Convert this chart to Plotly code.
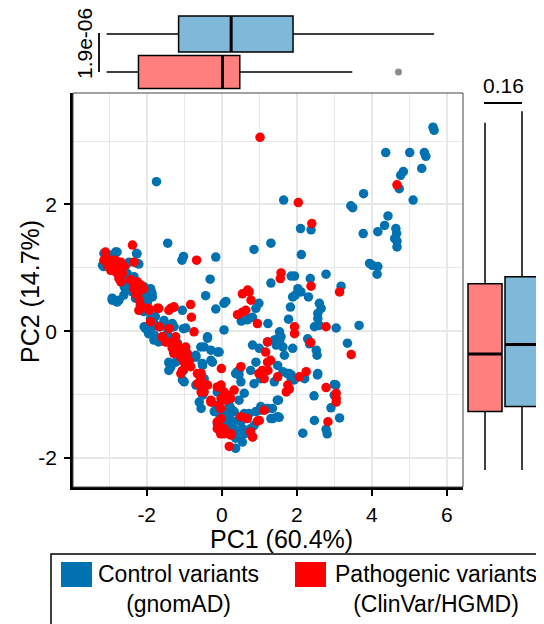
import plotly.graph_objects as go

# The page body adds an 8px offset; the figure is laid out in screen pixels
OX, OY = 8, 8
FW, FH = 536, 616

# ---------------- data ----------------
# PCA scores (PC1, PC2)
control_points = [
    (5.63, 3.22), (5.66, 3.17), (4.37, 2.82), (5.01, 2.82), (5.40, 2.82), (5.44, 2.76), (5.33, 2.57),
    (4.77, 2.46), (4.84, 2.52), (4.73, 2.25), (5.10, 2.07), (3.78, 2.17), (3.44, 1.98), (3.49, 1.95),
    (4.43, 1.82), (4.34, 1.67), (4.16, 1.57), (3.77, 1.54), (4.64, 1.62), (4.66, 1.54), (4.61, 1.46),
    (4.67, 1.42), (4.67, 1.33), (3.94, 1.07), (4.01, 1.04), (4.16, 1.02), (4.14, 0.90), (3.66, 0.09),
    (3.35, -0.19),
    (1.65, 2.07), (2.10, 1.62), (2.38, 1.60), (0.86, 1.29), (1.31, 1.39), (2.12, 1.21), (-1.74, 2.36),
    (-1.44, 1.39), (-1.02, 1.18), (-1.06, 1.12), (-0.16, 1.17), (-0.31, 0.82), (-0.43, 0.56),
    (0.11, 0.47), (0.06, 0.44), (-0.16, 0.35), (0.06, 0.02), (-1.05, 0.33),
    (1.31, 0.76), (1.85, 0.87), (1.94, 0.87), (2.36, 0.83), (2.78, 0.90), (3.18, 0.71), (2.03, 0.67),
    (1.96, 0.57), (1.89, 0.54), (2.11, 0.62), (2.31, 0.54), (1.83, 0.38), (2.60, 0.44), (2.65, 0.36),
    (2.56, 0.28), (2.56, 0.20), (2.47, 0.07), (2.60, 0.09), (3.05, 0.05), (1.23, 0.12), (1.78, 0.19),
    (1.54, -0.01), (1.40, -0.14), (1.49, -0.12), (1.58, -0.09), (1.54, -0.17), (1.45, -0.22),
    (1.63, -0.25), (1.67, -0.38), (1.49, -0.54), (1.63, -0.64), (1.85, -0.69), (1.89, -0.27),
    (2.29, -0.12), (2.34, -0.20), (2.52, -0.30), (2.54, -0.38), (1.80, -0.67), (1.85, -0.75),
    (2.21, -0.75), (2.56, -0.67), (3.00, -0.84), (2.91, -1.21), (3.14, -1.37), (2.78, -1.55),
    (2.81, -1.62), (2.47, -1.41), (2.46, -1.02), (2.16, -1.61), (1.51, -1.09), (1.49, -1.35),
    (1.36, -1.38), (1.23, -1.22),
    (0.99, 0.44), (0.91, 0.36), (0.82, 0.22), (0.73, 0.20), (0.68, 0.18), (0.52, 0.16),
    (-1.32, 0.12), (-0.96, 0.05), (-1.36, 0.07), (-0.38, -0.11), (-0.47, -0.25), (-0.11, -0.33),
    (-0.29, -0.46), (-0.25, -0.49), (-0.69, -0.41), (-0.51, -0.54), (-0.87, -0.41), (-1.23, -0.49),
    (-1.00, -0.80), (0.82, -0.22), (1.00, -0.27), (1.22, -0.17), (0.91, -0.49), (0.77, -0.62),
    (1.04, -0.75), (0.42, -0.64), (0.46, -0.69), (0.51, -0.80), (-0.47, -0.75), (-0.69, -0.85),
    (-0.51, -1.01), (-0.60, -1.12), (-0.55, -1.22),
    (-0.12, -0.96), (0.15, -1.01), (-0.20, -1.27), (0.20, -1.17), (0.33, -1.27), (0.20, -1.35),
    (0.33, -1.43), (-0.12, -1.46), (0.02, -1.49), (0.15, -1.54), (0.06, -1.59), (0.51, -1.43),
    (0.64, -1.35), (0.73, -1.30), (0.55, -1.54), (0.42, -1.67), (0.37, -1.85), (0.55, -1.75),
    (0.86, -1.49), (0.91, -1.27), (1.04, -1.19), (1.22, -1.22),
    (-0.07, -1.30), (0.02, -1.25), (0.11, -1.33), (0.24, -1.22), (0.42, -1.41), (0.37, -1.56),
    (0.60, -1.30), (0.46, -1.09), (0.37, -0.67), (0.46, -0.62), (0.60, -0.98), (0.86, -0.83),
    (0.77, -1.54), (0.60, -1.62), (0.37, -1.69), (-0.16, -1.17), (0.15, -1.46), (0.28, -1.46),
    (1.40, -0.80), (1.48, -1.09), (1.35, -1.22), (1.31, -1.38), (1.53, -1.36), (1.00, -1.25),
    (1.93, -0.77), (2.55, -0.69), (3.04, -0.85), (3.00, -1.01), (1.75, -0.67),
    (-3.18, 1.04), (-3.14, 1.23), (-3.05, 1.15), (-2.96, 1.20), (-2.83, 1.25), (-3.14, 1.09),
    (-2.87, 1.12), (-2.56, 1.04), (-2.47, 1.09), (-2.27, 1.23), (-2.25, 1.07), (-2.52, 0.91),
    (-2.56, 0.81), (-2.60, 0.70), (-2.92, 0.49), (-2.74, 0.49), (-2.38, 0.62), (-2.16, 0.62),
    (-2.07, 0.52), (-1.89, 0.65), (-1.85, 0.54), (-1.98, 0.46), (-2.12, 0.33), (-2.38, 0.75),
    (-2.34, 0.86), (-2.07, 0.70), (-2.79, 1.25), (-3.15, 1.02), (-2.26, 1.22), (-2.21, 1.06),
    (-2.92, 0.52), (-2.79, 0.46), (-2.61, 0.57), (-2.52, 0.67), (-2.30, 0.52), (-2.17, 0.49),
    (-2.08, 0.57), (-1.86, 0.60), (-1.90, 0.67), (-2.08, 0.31), (-1.90, 0.20), (-1.77, 0.23),
    (-2.03, 0.04), (-1.95, -0.04), (-1.81, -0.14), (-1.68, -0.17), (-1.63, 0.07), (-1.77, 0.10),
    (-1.41, -0.49), (-1.41, -0.62), (-1.28, -0.12), (-1.32, 0.07),
    (-2.07, 0.07), (-1.98, 0.04), (-1.85, 0.07), (-1.80, -0.06), (-1.72, -0.14), (-1.54, 0.17),
    (-1.49, 0.09), (-1.45, -0.04), (-1.36, -0.12), (-1.27, 0.07), (-1.40, -0.51), (-1.36, -0.57),
    (-1.02, -0.62), (-1.05, -0.77), (-1.02, 0.04), (-1.18, -0.19), (-1.09, -0.41), (-0.78, -0.41),
    (-0.69, -0.38), (-0.56, -0.25), (-0.38, -0.09), (-0.29, -0.30), (-0.07, -0.33), (-0.52, -0.51),
]

pathogenic_points = [
    (1.02, 3.06), (2.04, 2.03), (2.40, 1.70), (4.67, 2.31), (-0.67, 1.12), (1.58, 0.92), (1.56, 0.83),
    (2.38, 0.71), (3.14, 0.62), (0.69, 0.65), (0.55, 0.59), (0.73, 0.62), (0.78, 0.49), (0.64, 0.33),
    (0.55, 0.30), (0.42, 0.26), (0.95, 0.12), (1.94, 0.07), (1.94, -0.04), (2.78, 0.07), (3.45, -0.37),
    (2.37, -0.18), (1.22, -0.17), (1.30, -0.46), (1.23, -0.62), (1.49, -0.72), (1.76, -0.85),
    (1.72, -0.96), (1.80, -0.91), (2.07, -0.72), (2.25, -0.64), (2.78, -0.89), (3.05, -0.98),
    (3.05, -1.06), (3.05, -1.12), (2.83, -1.43), (1.13, -1.25), (0.95, -1.42), (0.82, -1.67),
    (0.20, -1.82),
    (-0.83, 0.42), (-1.27, 0.38), (-1.36, 0.36), (-0.81, 0.22), (-0.74, -0.01), (-1.23, -0.09),
    (-1.36, -0.19), (-1.18, -0.22), (-1.09, -0.33), (-0.92, -0.38), (-0.96, -0.54), (-1.05, -0.62),
    (-1.09, -0.67), (1.17, -0.33), (1.22, -0.49), (1.08, -0.62), (0.99, -0.67), (1.13, -0.75),
    (0.51, -0.56), (-0.01, -0.59), (-0.55, -0.67), (-0.60, -0.83), (-0.55, -0.96), (-0.38, -0.85),
    (-0.29, -1.12), (-0.02, -0.85), (0.06, -0.96), (-0.02, -1.06), (0.11, -1.09), (-0.07, -1.17),
    (-0.02, -1.38), (-0.12, -1.54), (0.06, -1.62), (0.24, -1.64), (0.82, -1.67), (1.00, -1.41),
    (0.77, -1.59),
    (-0.12, -0.88), (0.15, -1.01), (-0.12, -1.43), (-0.07, -1.51), (-0.03, -1.62), (0.06, -1.54),
    (0.24, -1.62), (0.51, -1.35), (0.68, -1.38), (0.33, -0.93), (0.24, -1.06), (-0.03, -1.22),
    (-1.67, 0.07), (-1.58, -0.09), (-1.45, -0.17), (-1.27, -0.19), (-1.23, -0.30), (-1.09, -0.41),
    (-1.02, -0.48), (-0.92, -0.35), (-0.87, -0.48), (-0.83, -0.56), (-0.96, -0.25), (-0.65, -0.67),
    (-0.56, -0.75), (-0.52, -0.83), (-0.47, -0.96), (-0.29, -1.09), (-0.65, -0.83),
    (-2.35, 0.67), (-2.21, 0.62), (-2.08, 0.67), (-2.17, 0.41), (-2.21, 0.33), (-1.95, 0.36),
    (-1.68, 0.36), (-1.41, 0.33), (-1.28, 0.38), (-1.90, 0.15), (-1.59, -0.09), (-1.50, -0.17),
    (-1.41, 0.04), (-1.32, -0.27), (-1.28, -0.35),
    (-3.14, 1.12), (-3.09, 1.17), (-3.00, 1.09), (-2.92, 1.07), (-2.87, 1.02), (-2.83, 0.94),
    (-2.78, 0.91), (-2.74, 0.83), (-2.69, 0.78), (-2.96, 0.96), (-3.05, 1.04), (-2.83, 1.12),
    (-2.69, 1.09), (-2.60, 1.02), (-2.38, 1.36), (-2.34, 1.09), (-2.43, 0.81), (-2.34, 0.75),
    (-2.25, 0.78), (-2.16, 0.73), (-2.12, 0.67), (-2.29, 0.59), (-2.20, 0.49), (-2.16, 0.38),
    (-1.94, 0.33), (-1.72, 0.36), (-2.25, 0.67), (-2.65, 0.91), (-2.78, 1.04), (-3.10, 1.25),
    (-2.90, 1.00), (-2.95, 1.12), (-2.70, 0.95),
]

# Marginal box-plot summaries: [control, pathogenic]
pc1_lowerfence = [-3.07, -3.07]
pc1_q1 = [-1.15, -2.22]
pc1_median = [0.25, 0.02]
pc1_q3 = [1.90, 0.48]
pc1_upperfence = [5.66, 3.48]
pc1_outliers_pathogenic = [4.71]

pc2_lowerfence = [-2.19, -2.19]
pc2_q1 = [-1.19, -1.27]
pc2_median = [-0.21, -0.36]
pc2_q3 = [0.86, 0.75]
pc2_upperfence = [3.47, 3.29]

pc1_pvalue = "1.9e-06"
pc2_pvalue = "0.16"
x_ticks = [-2, 0, 2, 4, 6]
x_ticklabels = ["-2", "0", "2", "4", "6"]
y_ticks = [-2, 0, 2]
y_ticklabels = ["-2", "0", "2"]
x_minor = [-3, -1, 1, 3, 5]
y_minor = [-1, 1, 3]
legend_labels = ["Control variants<br>(gnomAD)", "Pathogenic variants<br>(ClinVar/HGMD)"]
x_title = "PC1 (60.4%)"
y_title = "PC2 (14.7%)"

# ---------------- style ----------------
BLUE = "#0072B2"
RED = "#FF0000"
BLUE_FILL = "#7FB8D8"
RED_FILL = "#FF7F7F"
FONT = "Liberation Sans, Arial, sans-serif"
GRID = "#E8E8E8"


def fx(px):
    return (px - OX) / FW


def fy(py):
    return 1 - (py - OY) / FH


XR = [-3.965, 6.43]
YR = [-2.46, 3.76]

fig = go.Figure()

# scatter
fig.add_trace(go.Scatter(
    x=[p[0] for p in control_points], y=[p[1] for p in control_points],
    mode="markers", marker=dict(color=BLUE, size=9.5, line=dict(width=0)),
    showlegend=False, xaxis="x", yaxis="y", hoverinfo="skip"))
fig.add_trace(go.Scatter(
    x=[p[0] for p in pathogenic_points], y=[p[1] for p in pathogenic_points],
    mode="markers", marker=dict(color=RED, size=9.5, line=dict(width=0)),
    showlegend=False, xaxis="x", yaxis="y", hoverinfo="skip"))

# top marginal boxes (PC1)
TOP_POS = [34, 72]
TOP_W = [36, 33]
fills = [BLUE_FILL, RED_FILL]
for i in range(2):
    fig.add_trace(go.Box(
        orientation="h", y=[TOP_POS[i]],
        q1=[pc1_q1[i]], median=[pc1_median[i]], q3=[pc1_q3[i]],
        lowerfence=[pc1_lowerfence[i]], upperfence=[pc1_upperfence[i]],
        width=TOP_W[i], fillcolor=fills[i], line=dict(color="black", width=1.5),
        whiskerwidth=0, boxpoints=False, showlegend=False, xaxis="x2", yaxis="y2",
        hoverinfo="skip"))
    fig.add_shape(type="line", xref="x2", yref="y2",
                  x0=pc1_median[i], x1=pc1_median[i],
                  y0=TOP_POS[i] - TOP_W[i] / 2, y1=TOP_POS[i] + TOP_W[i] / 2,
                  line=dict(color="black", width=3))
fig.add_trace(go.Scatter(
    x=pc1_outliers_pathogenic, y=[TOP_POS[1]] * len(pc1_outliers_pathogenic),
    mode="markers", marker=dict(color="#8C8C8C", size=7), showlegend=False,
    xaxis="x2", yaxis="y2", hoverinfo="skip"))

# right marginal boxes (PC2): pathogenic left, control right
RIGHT_POS = {1: 485, 0: 522}
RIGHT_W = {1: 34, 0: 34}
for i in [1, 0]:
    fig.add_trace(go.Box(
        x=[RIGHT_POS[i]],
        q1=[pc2_q1[i]], median=[pc2_median[i]], q3=[pc2_q3[i]],
        lowerfence=[pc2_lowerfence[i]], upperfence=[pc2_upperfence[i]],
        width=RIGHT_W[i], fillcolor=fills[i], line=dict(color="black", width=1.5),
        whiskerwidth=0, boxpoints=False, showlegend=False, xaxis="x3", yaxis="y3",
        hoverinfo="skip"))
    fig.add_shape(type="line", xref="x3", yref="y3",
                  x0=RIGHT_POS[i] - RIGHT_W[i] / 2, x1=RIGHT_POS[i] + RIGHT_W[i] / 2,
                  y0=pc2_median[i], y1=pc2_median[i],
                  line=dict(color="black", width=3))

tickfont = dict(family=FONT, size=21, color="black")

fig.update_layout(
    width=FW, height=FH, margin=dict(l=0, r=0, t=0, b=0),
    paper_bgcolor="white", plot_bgcolor="white",
    font=dict(family=FONT, color="black"),
    xaxis=dict(domain=[fx(73), fx(463)], range=XR, anchor="y",
               tickvals=x_ticks, ticktext=x_ticklabels,
               ticks="outside", ticklen=6, tickwidth=1.5, tickcolor="black",
               showline=True, linecolor="black", linewidth=2.5,
               showgrid=True, gridcolor=GRID, gridwidth=1.5, zeroline=False,
               minor=dict(tickvals=x_minor, showgrid=True, gridcolor=GRID, gridwidth=1, ticks=""),
               tickfont=tickfont, ticklabelstandoff=1),
    yaxis=dict(domain=[fy(487), fy(93)], range=YR, anchor="x",
               tickvals=y_ticks, ticktext=y_ticklabels,
               ticks="outside", ticklen=6, tickwidth=1.5, tickcolor="black",
               showline=True, linecolor="black", linewidth=2.5,
               showgrid=True, gridcolor=GRID, gridwidth=1.5, zeroline=False,
               minor=dict(tickvals=y_minor, showgrid=True, gridcolor=GRID, gridwidth=1, ticks=""),
               tickfont=tickfont, ticklabelstandoff=3),
    xaxis2=dict(domain=[fx(73), fx(463)], range=XR, anchor="y2", visible=False),
    yaxis2=dict(domain=[fy(92), fy(8)], range=[92, 8], anchor="x2", visible=False),
    xaxis3=dict(domain=[fx(462), fx(544)], range=[462, 544], anchor="y3", visible=False),
    yaxis3=dict(domain=[fy(487), fy(93)], range=YR, anchor="x3", visible=False),
)

# panel border (thin, top/right)
fig.add_shape(type="rect", xref="x domain", yref="y domain", x0=0, x1=1, y0=0, y1=1,
              line=dict(color="#444444", width=1), layer="above")

# axis titles
fig.add_annotation(text=x_title, xref="paper", yref="paper", x=fx(281), y=fy(539),
                   xanchor="center", yanchor="middle",
                   showarrow=False, font=dict(family=FONT, size=25, color="black"))
fig.add_annotation(text=y_title, xref="paper", yref="paper", x=fx(30), y=fy(292),
                   xanchor="center", yanchor="middle",
                   textangle=-90, showarrow=False, font=dict(family=FONT, size=25, color="black"))

# significance annotations
fig.add_shape(type="line", xref="paper", yref="paper", x0=fx(99), x1=fx(99),
              y0=fy(33), y1=fy(72), line=dict(color="black", width=1.8))
fig.add_annotation(text=pc1_pvalue, xref="paper", yref="paper", x=fx(85), y=fy(44),
                   xanchor="center", yanchor="middle",
                   textangle=-90, showarrow=False, font=dict(family=FONT, size=21, color="black"))
fig.add_shape(type="line", xref="paper", yref="paper", x0=fx(484), x1=fx(522),
              y0=fy(103), y1=fy(103), line=dict(color="black", width=1.8))
fig.add_annotation(text=pc2_pvalue, xref="paper", yref="paper", x=fx(503), y=fy(85),
                   xanchor="center", yanchor="middle",
                   showarrow=False, font=dict(family=FONT, size=21, color="black"))

# custom legend
fig.add_shape(type="rect", xref="paper", yref="paper", x0=fx(51), x1=fx(580),
              y0=fy(554), y1=fy(660), line=dict(color="black", width=1.5))
leg_sq_x = [61, 295]
leg_txt_x = [178, 436]
leg_cols = [BLUE, RED]
for i in range(2):
    fig.add_shape(type="rect", xref="paper", yref="paper",
                  x0=fx(leg_sq_x[i]), x1=fx(leg_sq_x[i] + 31), y0=fy(587), y1=fy(562),
                  line=dict(width=0), fillcolor=leg_cols[i])
    fig.add_annotation(text=legend_labels[i], xref="paper", yref="paper",
                       x=fx(leg_txt_x[i]), y=fy(589), xanchor="center", yanchor="middle",
                       align="center", showarrow=False,
                       font=dict(family=FONT, size=23, color="black"))

fig.write_html("out.html")
